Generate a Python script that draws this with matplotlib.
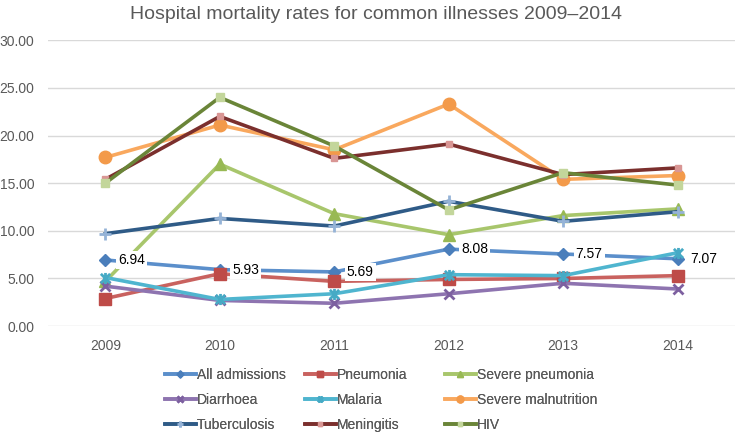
import matplotlib
matplotlib.use("Agg")
import matplotlib.pyplot as plt
from matplotlib.path import Path

plt.rcParams['font.family'] = ['Liberation Sans', 'DejaVu Sans']

years = ["2009", "2010", "2011", "2012", "2013", "2014"]

all_admissions = [6.94, 5.93, 5.69, 8.08, 7.57, 7.07]
pneumonia = [2.9, 5.5, 4.7, 4.9, 5.0, 5.3]
severe_pneumonia = [4.7, 17.0, 11.8, 9.6, 11.6, 12.3]
diarrhoea = [4.2, 2.7, 2.4, 3.4, 4.5, 3.9]
malaria = [5.1, 2.8, 3.4, 5.4, 5.3, 7.7]
severe_malnutrition = [17.7, 21.1, 18.5, 23.3, 15.4, 15.8]
tuberculosis = [9.7, 11.3, 10.5, 13.1, 11.0, 12.0]
meningitis = [15.4, 22.0, 17.6, 19.1, 15.9, 16.6]
hiv = [15.0, 24.0, 18.9, 12.2, 16.1, 14.8]

labels = ["All admissions", "Pneumonia", "Severe pneumonia",
          "Diarrhoea", "Malaria", "Severe malnutrition",
          "Tuberculosis", "Meningitis", "HIV"]

# star marker (x with vertical bar), Excel style
star = Path([(-1, -1), (1, 1), (-1, 1), (1, -1), (0, -1.2), (0, 1.2)],
            [Path.MOVETO, Path.LINETO, Path.MOVETO, Path.LINETO, Path.MOVETO, Path.LINETO])

styles = [
    dict(color='#5B8FCB', marker='D', ms=6.5, mfc='#4A7EBB', mec='#4A7EBB'),
    dict(color='#C9625F', marker='s', ms=8, mfc='#BE4B48', mec='#BE4B48'),
    dict(color='#A8C66C', marker='^', ms=9, mfc='#98B954', mec='#98B954'),
    dict(color='#8E74B0', marker='x', ms=7, mfc='#7D60A0', mec='#7D60A0', mew=2),
    dict(color='#4FB5CF', marker=star, ms=8, mfc='none', mec='#46AAC5', mew=2),
    dict(color='#F9A85E', marker='o', ms=9, mfc='#F39A4A', mec='#F39A4A'),
    dict(color='#2F5B87', marker='+', ms=8, mfc='#95B3D7', mec='#95B3D7', mew=2),
    dict(color='#7B2F2D', marker='s', ms=4.5, mfc='#D99694', mec='#D99694'),
    dict(color='#6A8538', marker='s', ms=5.5, mfc='#C3D69B', mec='#C3D69B'),
]

series = [all_admissions, pneumonia, severe_pneumonia, diarrhoea, malaria,
          severe_malnutrition, tuberculosis, meningitis, hiv]

fig = plt.figure(figsize=(7.4, 4.32), dpi=100)
ax = fig.add_axes([0.065, 0.245, 0.928, 0.662])

x = list(range(len(years)))
handles = []
for i, (vals, lab, st) in enumerate(zip(series, labels, styles)):
    h, = ax.plot(x, vals, label=lab, lw=2.6, solid_joinstyle='round', zorder=3 + i, **st)
    handles.append(h)

for xi, v in zip(x, all_admissions):
    ax.annotate(f"{v:.2f}", (xi, v), xytext=(9, 0), textcoords='offset points',
                ha='left', va='center', fontsize=10, color='black', zorder=20,
                bbox=dict(boxstyle='square,pad=0.15', fc='white', ec='none'))

ax.set_xlim(-0.5, 5.5)
ax.set_ylim(0, 30)
ax.set_yticks([0, 5, 10, 15, 20, 25, 30])
ax.set_yticklabels([f"{t:.2f}" for t in [0, 5, 10, 15, 20, 25, 30]])
ax.set_xticks(x)
ax.set_xticklabels(years)
ax.tick_params(axis='both', length=0, labelsize=10, labelcolor='#595959')
ax.tick_params(axis='y', pad=10)
ax.tick_params(axis='x', pad=9)
ax.grid(axis='y', color='#D9D9D9', lw=1)
ax.set_axisbelow(True)
for s in ax.spines.values():
    s.set_visible(False)

fig.suptitle("Hospital mortality rates for common illnesses 2009\u20132014",
             x=0.508, y=0.986, fontsize=14, color='#595959', va='top')

# legend in three columns, each placed separately
col_x = [165 / 740, 305 / 740, 445 / 740]
for c in range(3):
    idx = [c, c + 3, c + 6]
    lg = fig.legend([handles[k] for k in idx], [labels[k] for k in idx],
                    loc='upper left', bbox_to_anchor=(col_x[c], 0.148),
                    frameon=False, fontsize=10, labelcolor='#595959',
                    handlelength=2.2, handletextpad=0.12, markerscale=0.55,
                    labelspacing=0.78, borderaxespad=0, borderpad=0)
    fig.add_artist(lg)

fig.savefig("out.png", dpi=100)
